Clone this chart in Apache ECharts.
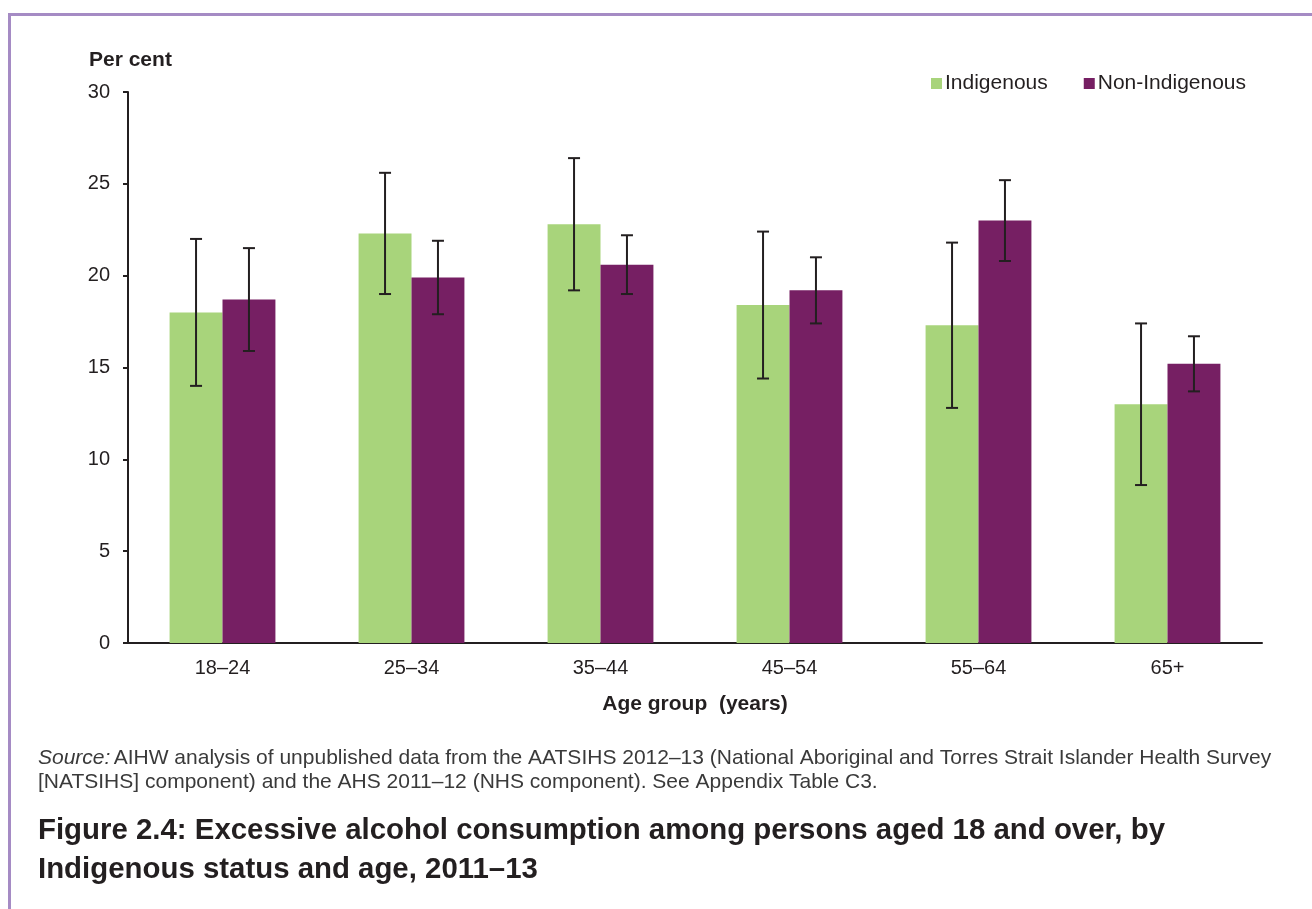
<!DOCTYPE html>
<html>
<head>
<meta charset="utf-8">
<style>
  html, body { margin: 0; padding: 0; background: #fff; }
  #chart { width: 1312px; height: 909px; }
</style>
<script src="https://cdn.jsdelivr.net/npm/echarts@6/dist/echarts.min.js"></script>
</head>
<body>
<div id="chart"></div>
<script>
const categories = ['18\u201324', '25\u201334', '35\u201344', '45\u201354', '55\u201364', '65+'];
const indigenous = [18.0, 22.3, 22.8, 18.4, 17.3, 13.0];
const indigenousLow = [14.0, 19.0, 19.2, 14.4, 12.8, 8.6];
const indigenousHigh = [22.0, 25.6, 26.4, 22.4, 21.8, 17.4];
const nonIndigenous = [18.7, 19.9, 20.6, 19.2, 23.0, 15.2];
const nonIndigenousLow = [15.9, 17.9, 19.0, 17.4, 20.8, 13.7];
const nonIndigenousHigh = [21.5, 21.9, 22.2, 21.0, 25.2, 16.7];
const yTicks = [0, 5, 10, 15, 20, 25, 30];

const BAR_FRAC = 0.28;
const green = '#a8d47b';
const purple = '#761f63';
const ink = '#231f20';

function errData(low, high) {
  return categories.map((c, i) => [i, low[i], high[i]]);
}
function errSeries(low, high, side) {
  return {
    type: 'custom',
    silent: true,
    z: 10,
    data: errData(low, high),
    renderItem: function (params, api) {
      const i = api.value(0);
      const lo = api.coord([i, api.value(1)]);
      const hi = api.coord([i, api.value(2)]);
      const bw = api.size([1, 0])[0] * BAR_FRAC;
      const x = lo[0] + side * bw / 2;
      const cap = 6;
      const style = { stroke: ink, lineWidth: 2 };
      return {
        type: 'group',
        children: [
          { type: 'line', shape: { x1: x, y1: lo[1], x2: x, y2: hi[1] }, style: style },
          { type: 'line', shape: { x1: x - cap, y1: lo[1], x2: x + cap, y2: lo[1] }, style: style },
          { type: 'line', shape: { x1: x - cap, y1: hi[1], x2: x + cap, y2: hi[1] }, style: style }
        ]
      };
    }
  };
}

const chart = echarts.init(document.getElementById('chart'), null, { renderer: 'canvas' });
const font = 'Liberation Sans, Arial, Helvetica, sans-serif';
chart.setOption({
  animation: false,
  textStyle: { fontFamily: font },
  grid: { left: 128, right: 50, top: 92, bottom: 266, containLabel: false },
  legend: {
    data: ['Indigenous', 'Non-Indigenous'],
    left: 926, top: 68,
    itemWidth: 11, itemHeight: 11, itemGap: 36,
    icon: 'rect',
    textStyle: { fontSize: 21, color: ink, fontFamily: font, padding: [0, 0, 0, -2] }
  },
  xAxis: {
    type: 'category',
    data: categories,
    axisLine: { lineStyle: { color: ink, width: 2 } },
    axisTick: { show: false },
    axisLabel: { fontSize: 20, color: ink, margin: 15, fontFamily: font },
    name: 'Age group  (years)',
    nameLocation: 'middle',
    nameGap: 51,
    nameTextStyle: { fontSize: 21, fontWeight: 'bold', color: ink, fontFamily: font }
  },
  yAxis: {
    type: 'value',
    min: 0, max: 30, interval: 5,
    axisLine: { show: true, lineStyle: { color: ink, width: 2 } },
    axisTick: { show: true, length: 5, lineStyle: { color: ink, width: 2 } },
    splitLine: { show: false },
    axisLabel: { fontSize: 20, color: ink, margin: 18, fontFamily: font,
      formatter: function (v) { return yTicks.indexOf(v) >= 0 ? String(v) : ''; } },
    name: 'Per cent',
    nameLocation: 'end',
    nameGap: 21,
    nameTextStyle: { fontSize: 21, fontWeight: 'bold', color: ink, align: 'left', padding: [0, 0, 0, -39], fontFamily: font }
  },
  series: [
    { name: 'Indigenous', type: 'bar', data: indigenous, barWidth: '28%', barGap: '0%',
      itemStyle: { color: green } },
    { name: 'Non-Indigenous', type: 'bar', data: nonIndigenous, barWidth: '28%', barGap: '0%',
      itemStyle: { color: purple } },
    errSeries(indigenousLow, indigenousHigh, -1),
    errSeries(nonIndigenousLow, nonIndigenousHigh, 1)
  ],
  graphic: [
    { type: 'line', shape: { x1: 8, y1: 14.5, x2: 1312, y2: 14.5 }, style: { stroke: '#a58bc4', lineWidth: 3 } },
    { type: 'line', shape: { x1: 9.5, y1: 13, x2: 9.5, y2: 909 }, style: { stroke: '#a58bc4', lineWidth: 3 } },
    { type: 'text', left: 38, top: 748, style: { rich: { i: { fontStyle: 'italic', fontSize: 21, fill: '#3a3a3a', fontFamily: font }, n: { fontSize: 21, fill: '#3a3a3a', fontFamily: font } },
        text: '{i|Source:} {n|AIHW analysis of unpublished data from the AATSIHS 2012\u201313 (National Aboriginal and Torres Strait Islander Health Survey}' } },
    { type: 'text', left: 38, top: 772, style: { text: '[NATSIHS] component) and the AHS 2011\u201312 (NHS component). See Appendix Table C3.', fontSize: 21, fill: '#3a3a3a', fontFamily: font } },
    { type: 'text', left: 38, top: 816, style: { text: 'Figure 2.4: Excessive alcohol consumption among persons aged 18 and over, by', fontSize: 29.4, fontWeight: 'bold', fill: ink, fontFamily: font } },
    { type: 'text', left: 38, top: 855, style: { text: 'Indigenous status and age, 2011\u201313', fontSize: 29.4, fontWeight: 'bold', fill: ink, fontFamily: font } }
  ]
});
</script>
</body>
</html>
